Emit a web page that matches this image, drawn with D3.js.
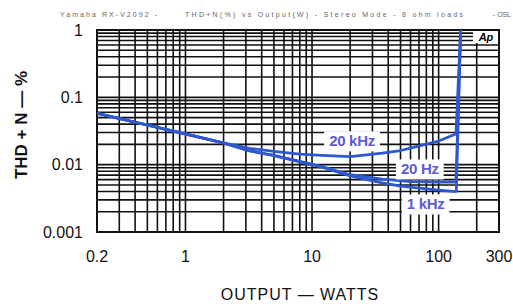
<!DOCTYPE html>
<html>
<head>
<meta charset="utf-8">
<script src="https://cdn.jsdelivr.net/npm/d3@7.9.0/dist/d3.min.js"></script>
<style>
  body { margin: 0; background: #fff; }
  svg { display: block; font-family: "Liberation Sans", Arial, sans-serif; }
</style>
</head>
<body>
<svg width="513" height="304"></svg>
<script>
// readings taken off the scanned plot (watts, THD+N %)
const watts1k = [0.2, 0.5, 1, 2, 3.2, 5, 8, 12, 20, 35, 50, 100, 130, 138, 150];
const thd1k = [0.058, 0.0386, 0.0284, 0.0209, 0.016, 0.0136, 0.011, 0.0092, 0.0068, 0.0054, 0.0048, 0.0042, 0.004, 0.004, 1.3];

const watts20 = [0.2, 0.5, 1, 2, 3.2, 5, 8, 12, 20, 36, 60, 100, 130, 137, 150];
const thd20 = [0.058, 0.0388, 0.0286, 0.021, 0.0161, 0.0138, 0.0112, 0.0094, 0.0071, 0.0061, 0.0056, 0.0055, 0.0055, 0.0055, 1.3];

const watts20k = [0.2, 0.5, 1, 2, 3.2, 5, 8, 12, 20, 36, 50, 67, 100, 137, 150];
const thd20k = [0.058, 0.0388, 0.0286, 0.0212, 0.0175, 0.0158, 0.0143, 0.0137, 0.0132, 0.0148, 0.0162, 0.0185, 0.0225, 0.0285, 1.3];

const seriesNames = ['20 kHz', '20 Hz', '1 kHz'];
const labelWatts = [20.7, 71, 79];
const labelThd = [0.0225, 0.0086, 0.0026];

const xTickLabels = [0.2, 1, 10, 100, 300];
const yTickLabels = [1, 0.1, 0.01, 0.001];

const svg = d3.select('svg');
const plotLeft = 97, plotRight = 499, plotTop = 30, plotBottom = 232;

const x = d3.scaleLog().domain([0.2, 300]).range([plotLeft, plotRight]);
const y = d3.scaleLog().domain([0.001, 1]).range([plotBottom, plotTop]);

// header line
const header = svg.append('g')
    .attr('fill', '#666')
    .style('font-size', '7px');
header.append('text').attr('x', 60).attr('y', 17)
    .attr('textLength', 97).attr('lengthAdjust', 'spacing')
    .text('Yamaha RX-V2092 -');
header.append('text').attr('x', 185).attr('y', 17)
    .attr('textLength', 278).attr('lengthAdjust', 'spacing')
    .text('THD+N(%) vs Output(W) - Stereo Mode - 8 ohm loads');
header.append('text').attr('x', 493).attr('y', 17)
    .attr('textLength', 18).attr('lengthAdjust', 'spacing')
    .text('- OSL');

// grid
const grid = svg.append('g').attr('stroke', '#111').attr('stroke-width', 1.6);
x.ticks().forEach((t) => {
    grid.append('line')
        .attr('x1', x(t)).attr('x2', x(t))
        .attr('y1', plotTop).attr('y2', plotBottom);
});
y.ticks().forEach((t) => {
    grid.append('line')
        .attr('x1', plotLeft).attr('x2', plotRight)
        .attr('y1', y(t)).attr('y2', y(t));
});
svg.append('rect')
    .attr('x', plotLeft).attr('y', plotTop)
    .attr('width', plotRight - plotLeft).attr('height', plotBottom - plotTop)
    .attr('fill', 'none').attr('stroke', '#111').attr('stroke-width', 2);

// Ap badge
svg.append('rect')
    .attr('x', 473).attr('y', 31).attr('width', 25).attr('height', 12)
    .attr('fill', '#fff');
svg.append('text')
    .attr('x', 486).attr('y', 41)
    .attr('text-anchor', 'middle')
    .style('font-size', '11px').style('font-weight', 'bold').style('font-style', 'italic')
    .text('Ap');

// curves
svg.append('clipPath').attr('id', 'plot-clip')
    .append('rect')
    .attr('x', plotLeft).attr('y', plotTop)
    .attr('width', plotRight - plotLeft).attr('height', plotBottom - plotTop);

const line = d3.line()
    .x((d) => x(d[0]))
    .y((d) => y(d[1]));

const curves = [
    d3.zip(watts20k, thd20k),
    d3.zip(watts20, thd20),
    d3.zip(watts1k, thd1k)
];

curves.forEach((pts) => {
    svg.append('path')
        .attr('clip-path', 'url(#plot-clip)')
        .attr('d', line(pts))
        .attr('fill', 'none')
        .attr('stroke', '#2d58cf')
        .attr('stroke-width', 2.7)
        .attr('stroke-linejoin', 'round');
});

// curve labels on white patches
seriesNames.forEach((name, i) => {
    let g = svg.append('g');
    let bg = g.append('rect').attr('fill', '#fff');
    let txt = g.append('text')
        .attr('x', x(labelWatts[i]))
        .attr('y', y(labelThd[i]))
        .attr('dy', '0.36em')
        .attr('text-anchor', 'middle')
        .attr('fill', '#5c5cd6')
        .style('font-size', '15px')
        .style('font-weight', 'bold')
        .style('letter-spacing', '-0.3px')
        .text(name);
    let b = txt.node().getBBox();
    bg.attr('x', b.x - 5).attr('y', b.y - 1)
        .attr('width', b.width + 10).attr('height', b.height + 3);
});

// tick labels
svg.append('g')
    .style('font-size', '16px')
    .attr('fill', '#111')
    .selectAll('text')
    .data(xTickLabels)
    .join('text')
    .attr('x', (d) => x(d))
    .attr('y', 262)
    .attr('text-anchor', 'middle')
    .text((d) => d);

svg.append('g')
    .style('font-size', '16px')
    .attr('fill', '#111')
    .selectAll('text')
    .data(yTickLabels)
    .join('text')
    .attr('x', 83)
    .attr('y', (d) => y(d))
    .attr('dy', '0.36em')
    .attr('text-anchor', 'end')
    .text((d) => d);

// axis titles
svg.append('text')
    .attr('x', 300).attr('y', 300)
    .attr('text-anchor', 'middle')
    .style('font-size', '16px')
    .style('letter-spacing', '1px')
    .attr('fill', '#111')
    .text('OUTPUT — WATTS');

svg.append('text')
    .attr('transform', 'translate(27,125) rotate(-90)')
    .attr('text-anchor', 'middle')
    .style('font-size', '17px')
    .style('font-weight', 'bold')
    .attr('fill', '#111')
    .text('THD + N — %');
</script>
</body>
</html>
